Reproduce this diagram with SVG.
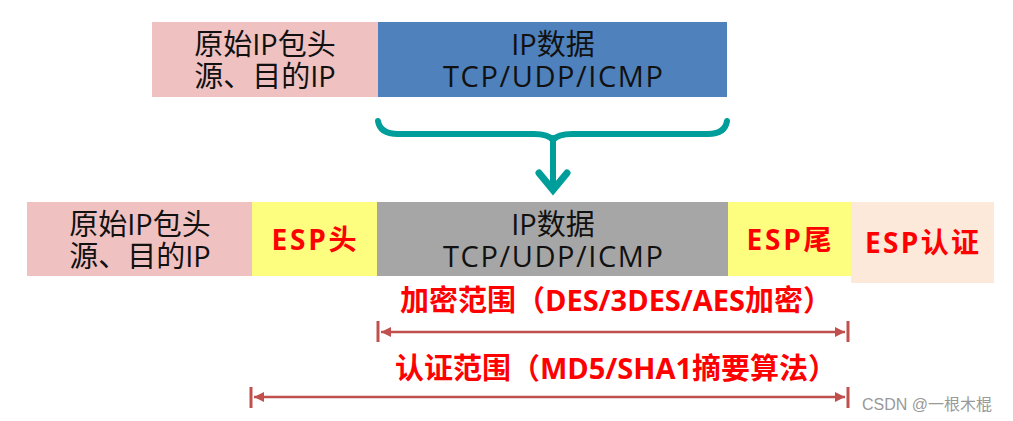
<svg xmlns="http://www.w3.org/2000/svg" width="1013" height="421" viewBox="0 0 1013 421">
<style>
.n{font-family:"Open Sans","Noto Sans CJK SC",sans-serif;font-size:29px;fill:#111;text-anchor:middle}
.r{font-family:"Open Sans","Noto Sans CJK SC",sans-serif;font-size:28px;font-weight:bold;fill:#ff0000;text-anchor:middle}
.ln{stroke:#c0504d;stroke-width:2.5;fill:none}
.bar{stroke:#c0504d;stroke-width:3}
.br{stroke:#009e9a;fill:none;stroke-linecap:round}
</style>
<defs>
<marker id="ah" viewBox="0 0 10 10" refX="10" refY="5" markerWidth="5" markerHeight="4" orient="auto-start-reverse"><path d="M0,0 L10,5 L0,10 z" fill="#c0504d"/></marker>
</defs>
<rect width="1013" height="421" fill="#fff"/>
<g id="top-header"><rect x="152" y="22" width="226" height="75" fill="#efc1c1"/><text class="n" x="265" y="55">原始IP包头</text><text class="n" x="265" y="87">源、目的IP</text></g>
<g id="top-data"><rect x="378" y="22" width="349" height="75" fill="#4f81bd"/><text class="n" x="553" y="55">IP数据</text><text class="n" x="553" y="87" textLength="220" lengthAdjust="spacing">TCP/UDP/ICMP</text></g>
<g id="bot-header"><rect x="27" y="202" width="225" height="74" fill="#efc1c1"/><text class="n" x="140" y="235">原始IP包头</text><text class="n" x="140" y="267">源、目的IP</text></g>
<g id="esp-head"><rect x="252" y="202" width="125" height="74" fill="#fdfd7f"/><text class="r" x="314" y="250" textLength="85" lengthAdjust="spacing">ESP头</text></g>
<g id="bot-data"><rect x="377" y="202" width="351" height="74" fill="#a6a6a6"/><text class="n" x="553" y="235">IP数据</text><text class="n" x="553" y="267" textLength="220" lengthAdjust="spacing">TCP/UDP/ICMP</text></g>
<g id="esp-tail"><rect x="728" y="202" width="123" height="74" fill="#fdfd7f"/><text class="r" x="789" y="250" textLength="85" lengthAdjust="spacing">ESP尾</text></g>
<g id="esp-auth"><rect x="851" y="202" width="143" height="81" fill="#fde9d9"/><text class="r" x="922" y="253" textLength="114" lengthAdjust="spacing">ESP认证</text></g>
<g id="connectors">
<path class="br" stroke-width="6" d="M378,121 Q380,134 398,134 L534,134 Q548,134 553,140 Q558,134 572,134 L708,134 Q725,134 727,121"/>
<path class="br" stroke-width="6" d="M553,138 L553,186"/>
<path d="M539,173 L553,190 L567,173" stroke="#009e9a" stroke-width="7" fill="none" stroke-linecap="round"/>
<line class="ln" x1="381" y1="332" x2="845" y2="332" marker-start="url(#ah)" marker-end="url(#ah)"/>
<line class="bar" x1="378" y1="321" x2="378" y2="342"/>
<line class="bar" x1="848" y1="321" x2="848" y2="342"/>
<line class="ln" x1="254" y1="397" x2="845" y2="397" marker-start="url(#ah)" marker-end="url(#ah)"/>
<line class="bar" x1="251" y1="387" x2="251" y2="408"/>
<line class="bar" x1="848" y1="387" x2="848" y2="408"/>
</g>
<text class="r" x="616" y="311" style="font-size:29px">加密范围（DES/3DES/AES加密）</text>
<text class="r" x="616" y="379" style="font-size:29px">认证范围（MD5/SHA1摘要算法）</text>
<text x="862" y="410" font-family="'Liberation Sans','Noto Sans CJK SC',sans-serif" font-size="16" fill="#999">CSDN @一根木棍</text>
</svg>
